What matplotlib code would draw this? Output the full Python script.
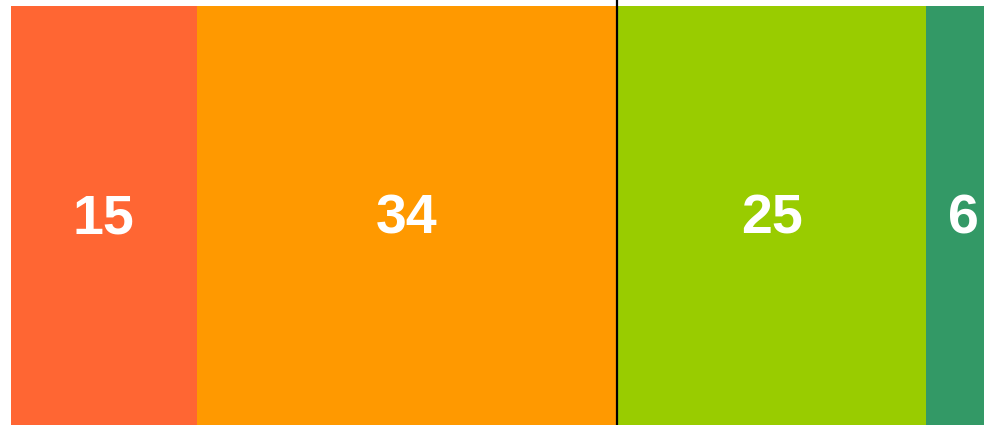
import matplotlib
matplotlib.use("Agg")
from matplotlib import pyplot as plt

valores = [15, 34, 25, 6]
cores = ["#FF6633", "#FF9900", "#99CC00", "#339966"]
divisao = 49

fig = plt.figure(figsize=(9.84, 4.25), dpi=100)
ax = fig.add_axes([11 / 984, 0, 973 / 984, 1])

inicio = 0
for v, c in zip(valores, cores):
    ax.barh(0, v, left=inicio, height=1, color=c, align="edge")
    ax.text(inicio + v / 2, 0.49, str(v), color="white", fontsize=40,
            fontweight="bold", family=["Liberation Sans", "DejaVu Sans"],
            ha="center", va="center", clip_on=True)
    inicio += v

ax.axvline(divisao, color="black", linewidth=1.6)

ax.set_xlim(0, 973 / 12.37)
ax.set_ylim(0, 425 / 419)
ax.axis("off")

fig.savefig("out.png", dpi=100)
